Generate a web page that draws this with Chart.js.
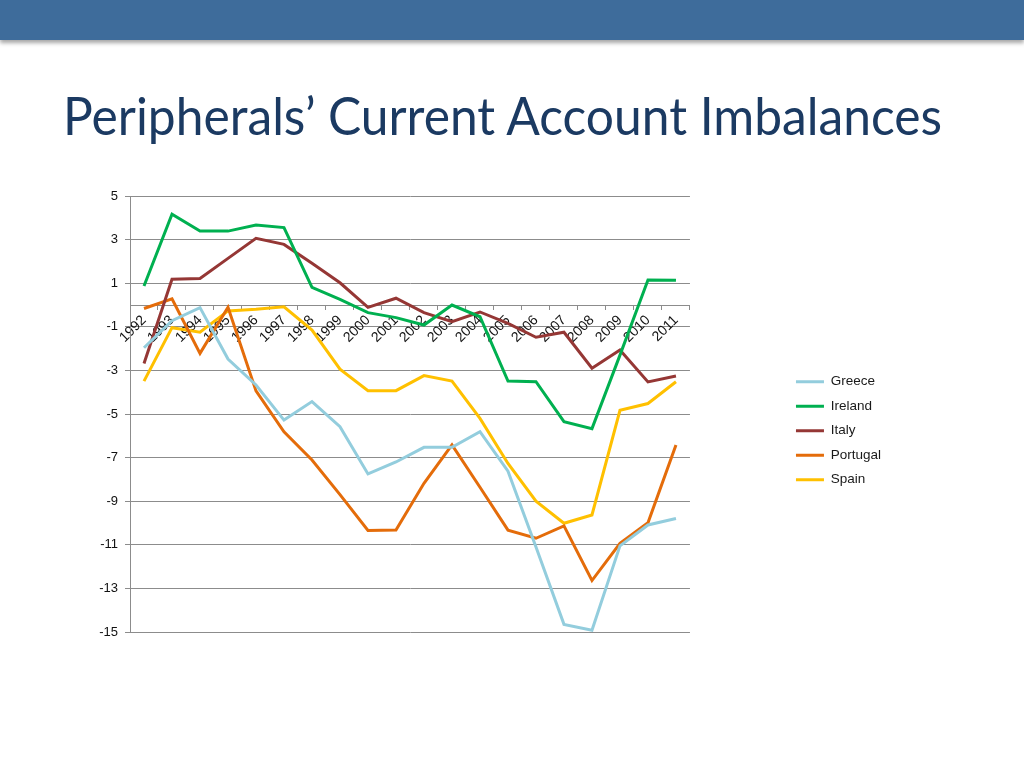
<!DOCTYPE html>
<html>
<head>
<meta charset="utf-8">
<script src="https://cdn.jsdelivr.net/npm/chart.js@4.4.1/dist/chart.umd.min.js"></script>
<style>
  html, body { margin: 0; padding: 0; background: #fff; }
  body { width: 1024px; height: 768px; position: relative; overflow: hidden; }
  #band {
    position: absolute; left: 0; top: 0; width: 1024px; height: 40px;
    background: #3e6c9b; box-shadow: 0 3px 4px rgba(0, 0, 0, 0.35);
  }
  #title {
    position: absolute; left: 63px; top: 89px;
    font-family: Lato, "Open Sans", sans-serif; font-size: 52px; line-height: 52px;
    color: #1b3a62; white-space: nowrap; transform-origin: 0 0;
  }
  #chartBox { position: absolute; left: 0; top: 0; width: 1024px; height: 768px; }
</style>
</head>
<body>
<div id="band"></div>
<div id="title">Peripherals’ Current Account Imbalances</div>
<div id="chartBox"><canvas id="caChart"></canvas></div>
<script>
// current account balance, % of GDP
const years = ['1992', '1993', '1994', '1995', '1996', '1997', '1998', '1999', '2000', '2001',
               '2002', '2003', '2004', '2005', '2006', '2007', '2008', '2009', '2010', '2011'];
const greece   = [-1.96, -0.72, -0.12, -2.48, -3.67, -5.28, -4.43, -5.58, -7.75, -7.2,
                  -6.53, -6.53, -5.81, -7.62, -11.1, -14.65, -14.92, -11.05, -10.09, -9.79];
const ireland  = [0.87, 4.17, 3.39, 3.39, 3.67, 3.55, 0.81, 0.26, -0.35, -0.58,
                  -0.92, 0.0, -0.54, -3.49, -3.52, -5.35, -5.67, -2.3, 1.15, 1.13];
const italy    = [-2.68, 1.18, 1.22, 2.14, 3.06, 2.78, 1.91, 1.02, -0.11, 0.31,
                  -0.35, -0.76, -0.32, -0.84, -1.48, -1.25, -2.9, -2.06, -3.53, -3.26];
const portugal = [-0.16, 0.28, -2.22, -0.1, -3.94, -5.82, -7.11, -8.7, -10.34, -10.32,
                  -8.18, -6.42, -8.36, -10.33, -10.7, -10.13, -12.64, -10.93, -9.99, -6.42];
const spain    = [-3.49, -1.04, -1.25, -0.27, -0.2, -0.08, -1.15, -2.94, -3.93, -3.93,
                  -3.24, -3.49, -5.2, -7.27, -9.0, -10.01, -9.63, -4.83, -4.52, -3.52];
const yTicks = [-15, -13, -11, -9, -7, -5, -3, -1, 1, 3, 5];

const series = [
  { label: 'Greece', data: greece, color: '#93cddd' },
  { label: 'Ireland', data: ireland, color: '#00b050' },
  { label: 'Italy', data: italy, color: '#953735' },
  { label: 'Portugal', data: portugal, color: '#e46c0a' },
  { label: 'Spain', data: spain, color: '#ffc000' }
];

// squeeze the title into the width it has on the slide
const title = document.getElementById('title');
title.style.transform = 'scaleX(' + (879 / title.getBoundingClientRect().width) + ')';

const fontFamily = '"Liberation Sans", Arial, sans-serif';
const gridGray = '#8c8c8c';

const ctx = document.getElementById('caChart').getContext('2d');
new Chart(ctx, {
  type: 'line',
  data: {
    labels: years,
    datasets: series.map(s => ({
      label: s.label,
      data: s.data,
      borderColor: s.color,
      backgroundColor: s.color,
      borderWidth: 3,
      pointRadius: 0,
      tension: 0,
      fill: false
    }))
  },
  options: {
    responsive: true,
    maintainAspectRatio: false,
    animation: false,
    layout: { padding: { left: 90, top: 196, right: 133, bottom: 136 } },
    plugins: {
      tooltip: { enabled: false },
      legend: {
        position: 'right',
        align: 'start',
        title: { display: true, text: ' ', font: { size: 10, lineHeight: 1 }, padding: { top: 158, bottom: 0 } },
        labels: {
          usePointStyle: true,
          pointStyle: 'line',
          pointStyleWidth: 28,
          padding: 11,
          color: '#1a1a1a',
          font: { family: fontFamily, size: 13.5 }
        }
      }
    },
    scales: {
      x: {
        position: { y: 0 },
        offset: true,
        grid: { offset: true, drawOnChartArea: false, drawTicks: true, tickLength: 4, color: gridGray },
        border: { color: gridGray },
        ticks: { font: { family: fontFamily, size: 14 }, color: '#111', minRotation: 45, maxRotation: 45, autoSkip: false, padding: 3 },
        afterFit: s => { s.height = 0; }
      },
      y: {
        min: -15,
        max: 5,
        afterBuildTicks: s => { s.ticks = yTicks.map(v => ({ value: v })); },
        grid: { color: gridGray, tickLength: 5 },
        border: { color: gridGray },
        ticks: { font: { family: fontFamily, size: 13 }, color: '#111', padding: 7 },
        afterFit: s => { s.width = 40; }
      },
      gap: {
        type: 'linear',
        position: 'right',
        grid: { display: false },
        border: { display: false },
        ticks: { display: false },
        afterFit: s => { s.width = 95; }
      }
    }
  }
});
</script>
</body>
</html>
